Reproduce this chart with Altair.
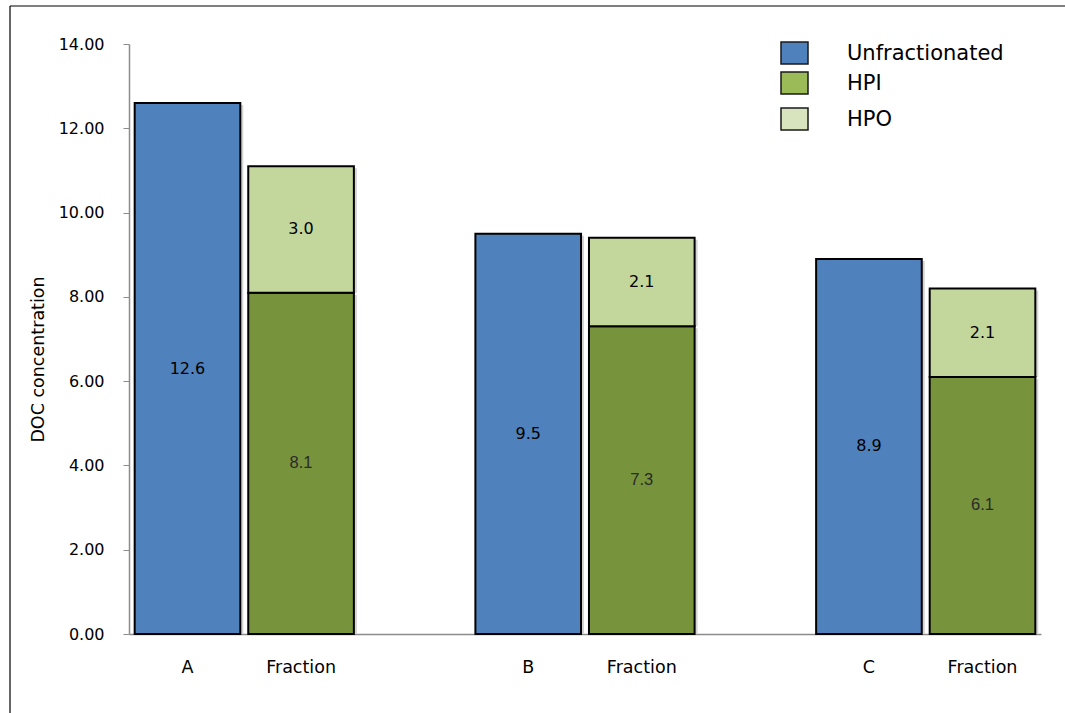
import altair as alt
import pandas as pd

# DOC concentration per water source, unfractionated vs. fractionated (HPI + HPO)
groups = ["A", "B", "C"]
unfractionated = [12.6, 9.5, 8.9]
hpi = [8.1, 7.3, 6.1]
hpo = [3.0, 2.1, 2.1]

series_names = ["Unfractionated", "HPI", "HPO"]
bar_colors = ["#4F81BD", "#77933C", "#C3D69B"]
legend_colors = ["#4F81BD", "#9BBB59", "#D7E4BD"]

y_ticks = [0, 2, 4, 6, 8, 10, 12, 14]

# x slots: each group gets its own bar and a "Fraction" bar, with an empty slot between groups
slots = []
for i, g in enumerate(groups):
    slots += [g, "F" + g]
    if i < len(groups) - 1:
        slots.append("gap" + str(i))

rows = []
for i, g in enumerate(groups):
    rows.append({"slot": g, "series": "Unfractionated", "order": 0, "value": unfractionated[i]})
    rows.append({"slot": "F" + g, "series": "HPI", "order": 1, "value": hpi[i]})
    rows.append({"slot": "F" + g, "series": "HPO", "order": 2, "value": hpo[i]})
df = pd.DataFrame(rows)

FONT = "DejaVu Sans"
W, H = 912, 590

x_enc = alt.X(
    "slot:N",
    scale=alt.Scale(domain=slots, paddingInner=0.07, paddingOuter=0.05),
    axis=alt.Axis(
        title=None,
        ticks=False,
        labelAngle=0,
        labelPadding=24,
        labelFont=FONT,
        labelFontSize=17.5,
        labelColor="#000000",
        domainColor="#8c8c8c",
        domainWidth=1.5,
        labelExpr="indexof(datum.value, 'F') == 0 ? 'Fraction' : (indexof(datum.value, 'gap') == 0 ? '' : datum.value)",
    ),
)

y_scale = alt.Scale(domain=[0, 14], nice=False)

base = alt.Chart(df).transform_stack(
    stack="value", groupby=["slot"], as_=["y0", "y1"], sort=[alt.SortField("order")]
).transform_calculate(mid="(datum.y0 + datum.y1) / 2")

shadow = base.mark_bar(color="#d4d4d4", xOffset=3, yOffset=2).encode(
    x=x_enc,
    y=alt.Y("y1:Q", scale=y_scale),
    y2="y0:Q",
)

bars = base.mark_bar(stroke="#000000", strokeWidth=2).encode(
    x=x_enc,
    y=alt.Y(
        "y1:Q",
        scale=y_scale,
        axis=alt.Axis(
            values=y_ticks,
            format=".2f",
            title="DOC concentration",
            titleFont=FONT,
            titleFontSize=17.5,
            titleFontWeight="normal",
            titleColor="#000000",
            titleAngle=270,
            titleAlign="center",
            titleBaseline="middle",
            titleX=-91,
            titleY=315,
            labelFont=FONT,
            labelFontSize=16,
            labelColor="#000000",
            labelPadding=19,
            tickColor="#8c8c8c",
            tickSize=6,
            domainColor="#8c8c8c",
            domainWidth=1.5,
            grid=False,
        ),
    ),
    y2="y0:Q",
    color=alt.Color(
        "series:N", scale=alt.Scale(domain=series_names, range=bar_colors), legend=None
    ),
)

labels_dark = base.transform_filter("datum.series != 'HPI'").mark_text(
    font=FONT, fontSize=16, color="#000000", baseline="middle"
).encode(x=x_enc, y=alt.Y("mid:Q", scale=y_scale), text=alt.Text("value:Q", format=".1f"))

labels_hpi = base.transform_filter("datum.series == 'HPI'").mark_text(
    font="Liberation Sans", fontSize=16.5, color="#2a2a2a", baseline="middle"
).encode(x=x_enc, y=alt.Y("mid:Q", scale=y_scale), text=alt.Text("value:Q", format=".1f"))

# Hand-drawn legend in the upper right (one row per item so nothing is overdrawn)
legend_layers = []
for i, (name, col) in enumerate(zip(series_names, legend_colors)):
    top = [-2, 28, 64][i]
    item = pd.DataFrame({"name": [name]})
    legend_layers.append(
        alt.Chart(item).mark_rect(fill=col, stroke="#1a1a1a", strokeWidth=1.5).encode(
            x=alt.value(652), x2=alt.value(679), y=alt.value(top), y2=alt.value(top + 22)
        )
    )
    legend_layers.append(
        alt.Chart(item).mark_text(
            font=FONT, fontSize=21, color="#000000", align="left", baseline="middle"
        ).encode(x=alt.value(718), y=alt.value(top + 12), text="name:N")
    )

# Outer frame (top and left edges visible)
one = pd.DataFrame({"k": [0]})
frame_top = alt.Chart(one).mark_rule(color="#000000", strokeWidth=1.2).encode(
    x=alt.value(-119), x2=alt.value(940), y=alt.value(-38)
)
frame_left = alt.Chart(one).mark_rule(color="#000000", strokeWidth=1.2).encode(
    x=alt.value(-119), y=alt.value(-38), y2=alt.value(680)
)

chart = alt.layer(
    shadow, bars, labels_dark, labels_hpi, *legend_layers, frame_top, frame_left
).properties(
    width=W,
    height=H,
    padding={"left": 129, "top": 44, "right": 24, "bottom": 79},
    autosize=alt.AutoSizeParams(type="none"),
    background="#ffffff",
).configure_view(stroke=None)

chart.save("out.html", embed_options={"renderer": "svg", "actions": False})
